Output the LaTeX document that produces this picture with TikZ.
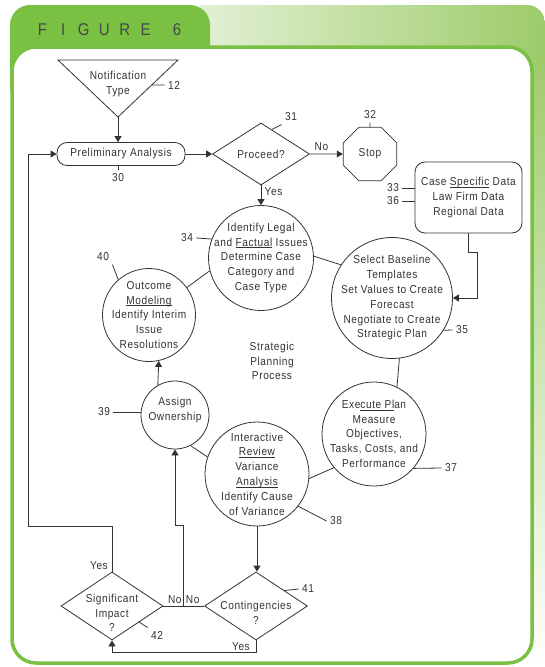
\documentclass[tikz,border=0pt]{standalone}
\usepackage{fontspec}
\setmainfont{Liberation Sans}[FakeStretch=0.88,LetterSpace=5]
\usetikzlibrary{shapes.geometric,arrows.meta,calc}

\definecolor{figgreen}{HTML}{7AC143}
\definecolor{bandlight}{HTML}{E2F0D4}
\definecolor{banddark}{HTML}{9DCB69}
\definecolor{ink}{HTML}{333333}
\newcommand{\keyword}[1]{\underline{\smash{#1}}}

\begin{document}
\begin{tikzpicture}[x=1pt,y=-1pt,
    every node/.style={text=ink, font=\fontsize{11.5}{14.8}\selectfont},
    line/.style={draw=ink, line width=0.8pt},
    arr/.style={line, -{Triangle[length=6pt,width=7pt]}},
    bubble/.style={line, circle, inner sep=0pt, minimum size=#1},
    query/.style={line, diamond, inner sep=0pt},
    card/.style={line, rectangle, inner sep=0pt, rounded corners=10pt},
    title/.style={text=ink!90, font=\fontsize{17}{17}\selectfont}]
            \useasboundingbox (0,0) rectangle (545,667);

            % frame
            \shade[top color=banddark, bottom color=white] (520,50) rectangle (545,667);
            \shade[left color=bandlight, right color=banddark] (200,5) -- (527,5)
                arc[start angle=270, end angle=360, radius=18] -- (545,70) -- (200,70) -- cycle;
            \fill[figgreen] (10,90) -- (10,25) arc[start angle=180, end angle=270, radius=20]
                -- (190,5) arc[start angle=270, end angle=360, radius=20] -- (210,90) -- cycle;
            \draw[figgreen, line width=3.5pt, fill=white, rounded corners=24pt] (12,47) rectangle (532,663);
            \foreach \ch [count=\i from 0] in {F,I,G,U,R,E}
                \node[title] (t\i) at (42.5+20.6*\i,30) {\ch};
            \node[title] (t6) at (177,30) {6};

            % shapes
            \coordinate (ntl) at (58,60);
            \coordinate (ntr) at (178,60);
            \coordinate (ntip) at (118,117);
            \draw[line] (ntl) -- (ntr) -- (ntip) -- cycle;
            \node[align=center] (notif) at (118,84) {Notification\\Type};

            \node[card, minimum width=128pt, minimum height=23pt] (prelim) at (121,154) {Preliminary Analysis};
            \node[query, minimum width=97pt, minimum height=62pt] (proceed) at (261,154) {Proceed?};
            \node[line, regular polygon, regular polygon sides=8, inner sep=0pt, minimum size=58pt] (stop) at (370,154) {Stop};
            \node[card, minimum width=107pt, minimum height=71pt, align=center] (data) at (468.5,197.5)
                {Case \keyword{Specific} Data\\Law Firm Data\\Regional Data};

            \node[bubble=105pt, label={[align=center]center:{Identify Legal\\and \keyword{Factual} Issues\\Determine Case\\Category and\\Case Type}}] (c34) at (261,258) {};
            \node[bubble=121pt, label={[align=center]center:{Select Baseline\\Templates\\Set Values to Create\\Forecast\\Negotiate to Create\\Strategic Plan}}] (c35) at (392,298) {};
            \node[bubble=104pt, label={[align=center]center:{Exe\keyword{cute Pl}an\\Measure\\Objectives,\\Tasks, Costs, and\\Performance}}] (c37) at (374,434) {};
            \node[bubble=104pt, label={[align=center]center:{Interactive\\\keyword{Review}\\Variance\\\keyword{Analysis}\\Identify Cause\\of Variance}}] (c38) at (257,474) {};
            \node[bubble=68pt, label={[align=center, yshift=5pt]center:{Assign\\Ownership}}] (c39) at (175,415) {};
            \node[bubble=93pt, label={[align=center]center:{Outcome\\\keyword{Modeling}\\Identify Interim\\Issue\\Resolutions}}] (c40) at (149,315) {};
            \node[align=center] (spp) at (272,361) {Strategic\\Planning\\Process};

            \node[query, minimum width=102pt, minimum height=68pt,
                label={[align=center, yshift=-7pt]center:{Significant\\Impact\\?}}] (sig) at (112,606) {};
            \node[query, minimum width=103pt, minimum height=68pt,
                label={[align=center, yshift=-7pt]center:{Contingencies\\?}}] (cont) at (256,606) {};

            % connectors
            \draw[arr] (ntip) -- (ntip |- prelim.north);
            \draw[arr] (prelim.east) -- (proceed.west);
            \draw[arr] (proceed.east) -- (stop.west) node[pos=0.35, above] (lno) {No};
            \draw[arr] (proceed.south) -- (c34.north) node[pos=0.3, right] (lyes) {Yes};
            \draw[arr] (data.south) -- ++(0,19) -- ++(9,0) |- (c35.east);
            \draw[line] (c40.36) -- (c34.194);
            \draw[line] (c34.2) -- (c35.147);
            \draw[line] (c35.277) -- (c37.64);
            \draw[line] (c37.220) -- (c38.355);
            \draw[line] (c39.297) -- (c38.161);
            \draw[arr] (c39.120) -- (c40.282);
            \draw[arr] (c38.south) -- (c38.south |- cont.north);
            \draw[line] (sig.east) -- (cont.west);
            \coordinate (split) at ($(sig.east)!0.5!(cont.west)$);
            \draw[arr] (split) -- ++(0,-81) -| (c39.south);
            \coordinate (back) at (28,526);
            \draw[arr] (sig.north) |- (back) |- (prelim.west);
            \draw[arr] (cont.south) -- ++(0,12) -| (sig.south);
            \node[anchor=south east, inner sep=2pt] (lno2) at (split) {No};
            \node[anchor=south west, inner sep=2pt] (lno3) at (split) {No};
            \node[anchor=south east, inner sep=2pt, xshift=-2pt] (lyes2) at (sig.north) {Yes};
            \node[anchor=north east, inner sep=2pt, xshift=-4pt] (lyes3) at (cont.south) {Yes};

            % reference numbers
            \node (n12) at (174,85) {12};
            \draw[line] (n12.west) -- ($(ntr)!0.44!(ntip)$);
            \node (n30) at (118,178) {30};
            \draw[line] (n30.north) -- (n30.north |- prelim.south);
            \node (n31) at (291,117) {31};
            \draw[line] (n31.south west) -- ($(proceed.north)!0.22!(proceed.east)$);
            \node (n32) at (370,115) {32};
            \draw[line] (n32.south) -- (stop.north);
            \node (n33) at (393,188) {33};
            \draw[line] (n33.east) -- (n33.east -| data.west);
            \node (n36) at (393,201) {36};
            \draw[line] (n36.east) -- (n36.east -| data.west);
            \node (n34) at (187,238) {34};
            \draw[line] (n34.east) -- (c34.159);
            \node (n40) at (103,257) {40};
            \draw[line] (n40.south east) -- (c40.131);
            \node (n35) at (462,330) {35};
            \draw[line] (n35.west) -- (c35.328);
            \node (n37) at (451,468) {37};
            \draw[line] (n37.west) -- (c37.319);
            \node (n38) at (336,521) {38};
            \draw[line] (n38.west) -- (c38.322);
            \node (n39) at (104,412) {39};
            \draw[line] (n39.east) -- (n39.east -| c39.west);
            \node (n41) at (308,589) {41};
            \draw[line] (n41.west) -- ($(cont.north)!0.55!(cont.east)$);
            \node (n42) at (157,635) {42};
            \draw[line] (n42.north west) -- ($(sig.south)!0.53!(sig.east)$);
        \end{tikzpicture}
\end{document}
